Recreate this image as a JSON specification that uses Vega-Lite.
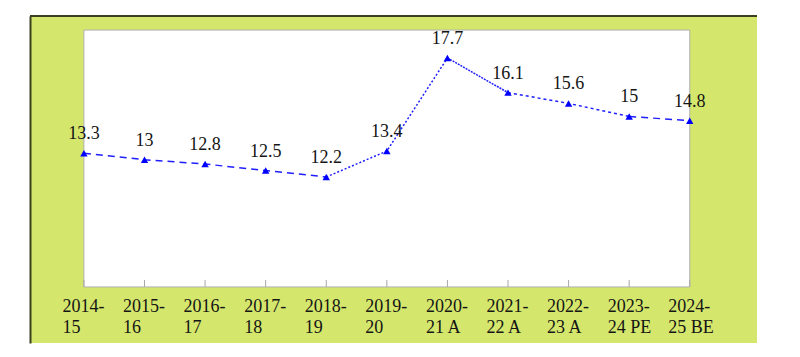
{
  "$schema": "https://vega.github.io/schema/vega-lite/v6.json",
  "width": 727,
  "height": 327,
  "autosize": {"type": "none"},
  "padding": {"left": 30, "top": 16, "right": 43, "bottom": 14},
  "background": "white",
  "config": {"view": {"fill": "#d4e76c", "stroke": null}, "axis": {"grid": false}},
  "data": {
    "values": [
      {"year": "2014-15", "value": 13.3},
      {"year": "2015-16", "value": 13},
      {"year": "2016-17", "value": 12.8},
      {"year": "2017-18", "value": 12.5},
      {"year": "2018-19", "value": 12.2},
      {"year": "2019-20", "value": 13.4},
      {"year": "2020-21 A", "value": 17.7},
      {"year": "2021-22 A", "value": 16.1},
      {"year": "2022-23 A", "value": 15.6},
      {"year": "2023-24 PE", "value": 15},
      {"year": "2024-25 BE", "value": 14.8}
    ]
  },
  "encoding": {
    "x": {
      "field": "year",
      "type": "ordinal",
      "sort": null,
      "scale": {
        "type": "point",
        "padding": 1.0583,
        "align": 0.445,
        "domain": ["2014-15", "2015-16", "2016-17", "2017-18", "2018-19", "2019-20", "2020-21 A", "2021-22 A", "2022-23 A", "2023-24 PE", "2024-25 BE"]
      },
      "axis": {
        "orient": "bottom",
        "offset": -56,
        "title": null,
        "domain": false,
        "ticks": false,
        "labelAngle": 0,
        "labelFont": "Times New Roman, Liberation Serif, serif",
        "labelFontSize": 18,
        "labelColor": "#151515",
        "labelAlign": "left",
        "labelBaseline": "top",
        "labelOffset": -22,
        "labelPadding": 10,
        "labelLineHeight": 21,
        "labelOverlap": false,
        "labelFlush": false,
        "labelExpr": "[slice(datum.label, 0, 5), slice(datum.label, 5)]"
      }
    },
    "y": {
      "field": "value",
      "type": "quantitative",
      "scale": {"domain": [4.53, 19.64], "nice": false, "zero": false},
      "axis": {
        "title": null,
        "labels": false,
        "ticks": false,
        "grid": false,
        "domain": true,
        "domainColor": "#3b3f1f",
        "domainWidth": 2
      }
    }
  },
  "layer": [
    {
      "transform": [{"filter": "datum.year == '2014-15'"}],
      "mark": {"type": "rect", "fill": "white", "stroke": "#b0b0b0", "strokeWidth": 1},
      "encoding": {
        "x": {"datum": "2014-15", "type": "ordinal"},
        "x2": {"datum": "2024-25 BE"},
        "y": {"datum": 7.12},
        "y2": {"datum": 18.99}
      }
    },
    {
      "transform": [{"filter": "datum.year == '2014-15'"}],
      "mark": {"type": "rule", "color": "#3b3f1f", "strokeWidth": 2},
      "encoding": {"x": null, "y": {"datum": 19.64}}
    },
    {
      "mark": {"type": "rule", "color": "#a8a8a8", "strokeWidth": 1},
      "encoding": {"y": {"datum": 7.12}, "y2": {"datum": 7.44}}
    },
    {
      "transform": [{"filter": {"field": "year", "oneOf": ["2014-15", "2015-16", "2016-17", "2017-18", "2018-19"]}}],
      "mark": {"type": "line", "color": "#1f1fff", "strokeWidth": 1.5, "strokeDash": [7, 5]},
      "encoding": {}
    },
    {
      "transform": [{"filter": {"field": "year", "oneOf": ["2018-19", "2019-20", "2020-21 A"]}}],
      "mark": {"type": "line", "color": "#1f1fff", "strokeWidth": 1.5, "strokeDash": [2, 2]},
      "encoding": {}
    },
    {
      "transform": [{"filter": {"field": "year", "oneOf": ["2020-21 A", "2021-22 A"]}}],
      "mark": {"type": "line", "color": "#1f1fff", "strokeWidth": 1.5, "strokeDash": [2, 1]},
      "encoding": {}
    },
    {
      "transform": [{"filter": {"field": "year", "oneOf": ["2021-22 A", "2022-23 A", "2023-24 PE"]}}],
      "mark": {"type": "line", "color": "#1f1fff", "strokeWidth": 1.5, "strokeDash": [3, 3]},
      "encoding": {}
    },
    {
      "transform": [{"filter": {"field": "year", "oneOf": ["2023-24 PE", "2024-25 BE"]}}],
      "mark": {"type": "line", "color": "#1f1fff", "strokeWidth": 1.5, "strokeDash": [7, 5]},
      "encoding": {}
    },
    {
      "mark": {"type": "point", "shape": "triangle-up", "filled": true, "size": 55, "color": "#0000ff", "opacity": 1},
      "encoding": {}
    },
    {
      "mark": {"type": "text", "font": "Times New Roman, Liberation Serif, serif", "fontSize": 18, "color": "#151515", "baseline": "alphabetic", "dy": -14},
      "encoding": {"text": {"field": "value", "type": "quantitative"}}
    }
  ]
}
